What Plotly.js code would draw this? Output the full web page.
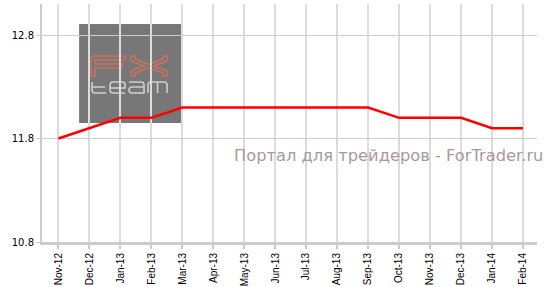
<!DOCTYPE html>
<html>
<head>
<meta charset="utf-8">
<script src="https://cdn.plot.ly/plotly-3.0.1.min.js"></script>
<style>html,body{margin:0;padding:0;background:#fff;}#chart{width:549px;height:287px;}</style>
</head>
<body>
<div id="chart"></div>
<script>
var categories = ["Nov-12","Dec-12","Jan-13","Feb-13","Mar-13","Apr-13","May-13","Jun-13","Jul-13","Aug-13","Sep-13","Oct-13","Nov-13","Dec-13","Jan-14","Feb-14"];
var values = [11.8, 11.9, 12.0, 12.0, 12.1, 12.1, 12.1, 12.1, 12.1, 12.1, 12.1, 12.0, 12.0, 12.0, 11.9, 11.9];
var yTicks = [10.8, 11.8, 12.8];
var watermarkText = "Портал для трейдеров - ForTrader.ru";

var logoSvg = '<svg xmlns="http://www.w3.org/2000/svg" width="102" height="99" viewBox="0 0 102 99">' +
  '<rect x="0" y="0" width="102" height="99" fill="#777777"/>' +
  '<path d="M12,52 V35 Q12,32 15,32 H46 V36 H16 V40 H43 V44 H16 V52 Z" fill="none" stroke="#d0705e" stroke-width="1.5"/>' +
  '<path d="M52,32 H56 V35 L70,40.5 L84,35 V32 H88 V37 L75,42 L88,47 V52 H84 V49 L70,43.5 L56,49 V52 H52 V47 L65,42 L52,37 Z" fill="none" stroke="#d0705e" stroke-width="1.5"/>' +
  '<g fill="none" stroke="#cfcfcf" stroke-width="1.6">' +
  '<path d="M13,58 V66 Q13,69 16,69 H27 M12,63 H26"/>' +
  '<path d="M31,64 H46 V61 Q46,58 43,58 H34 Q31,58 31,61 V66 Q31,69 34,69 H46"/>' +
  '<path d="M50,58 H62 Q65,58 65,61 V69 H53 Q50,69 50,66 V66 Q50,63 53,63 H65"/>' +
  '<path d="M69,69 V61 Q69,58 72,58 H85 Q88,58 88,61 V69 M78.5,58 V69"/>' +
  '</g></svg>';

var trace = {
  x: categories,
  y: values,
  type: 'scatter',
  mode: 'lines',
  line: {color: '#ff0000', width: 2.5},
  hoverinfo: 'skip'
};

var layout = {
  width: 549,
  height: 287,
  margin: {l: 42, r: 12, t: 4, b: 45, pad: 0},
  paper_bgcolor: '#ffffff',
  plot_bgcolor: '#ffffff',
  showlegend: false,
  xaxis: {
    type: 'category',
    range: [-0.53, 15.45],
    tickangle: -90,
    tickfont: {family: 'Liberation Sans, Arial, sans-serif', size: 10, color: '#000'},
    showgrid: true,
    gridcolor: '#dcdcdc',
    gridwidth: 2,
    showline: true,
    linecolor: '#cccccc',
    linewidth: 3,
    ticks: 'outside',
    ticklen: 4,
    tickcolor: '#cccccc',
    tickwidth: 2,
    zeroline: false,
    fixedrange: true
  },
  yaxis: {
    range: [10.8, 13.1],
    tickvals: yTicks,
    ticktext: yTicks.map(function(v){return v.toFixed(1);}),
    tickfont: {family: 'DejaVu Sans, Verdana, sans-serif', size: 10, color: '#000'},
    showgrid: true,
    gridcolor: '#cccccc',
    gridwidth: 1,
    showline: true,
    linecolor: '#cccccc',
    linewidth: 2,
    ticks: 'outside',
    ticklen: 4,
    tickcolor: '#cccccc',
    zeroline: false,
    fixedrange: true
  },
  images: [{
    source: 'data:image/svg+xml;charset=utf-8,' + encodeURIComponent(logoSvg),
    xref: 'x', yref: 'y',
    x: (79 - 58.3) / 31, y: 10.8 + (242 - 24) / 103.5,
    sizex: 102 / 31, sizey: 99 / 103.5,
    xanchor: 'left', yanchor: 'top',
    sizing: 'stretch',
    layer: 'below'
  }],
  annotations: [{
    text: watermarkText,
    xref: 'paper', yref: 'paper',
    x: (232 - 42) / 495, y: (242 - 155) / 238,
    xanchor: 'left', yanchor: 'middle',
    showarrow: false,
    font: {family: 'DejaVu Sans, Verdana, sans-serif', size: 16.3, color: '#a99999'}
  }]
};

Plotly.newPlot('chart', [trace], layout, {displayModeBar: false, staticPlot: true});
</script>
</body>
</html>
